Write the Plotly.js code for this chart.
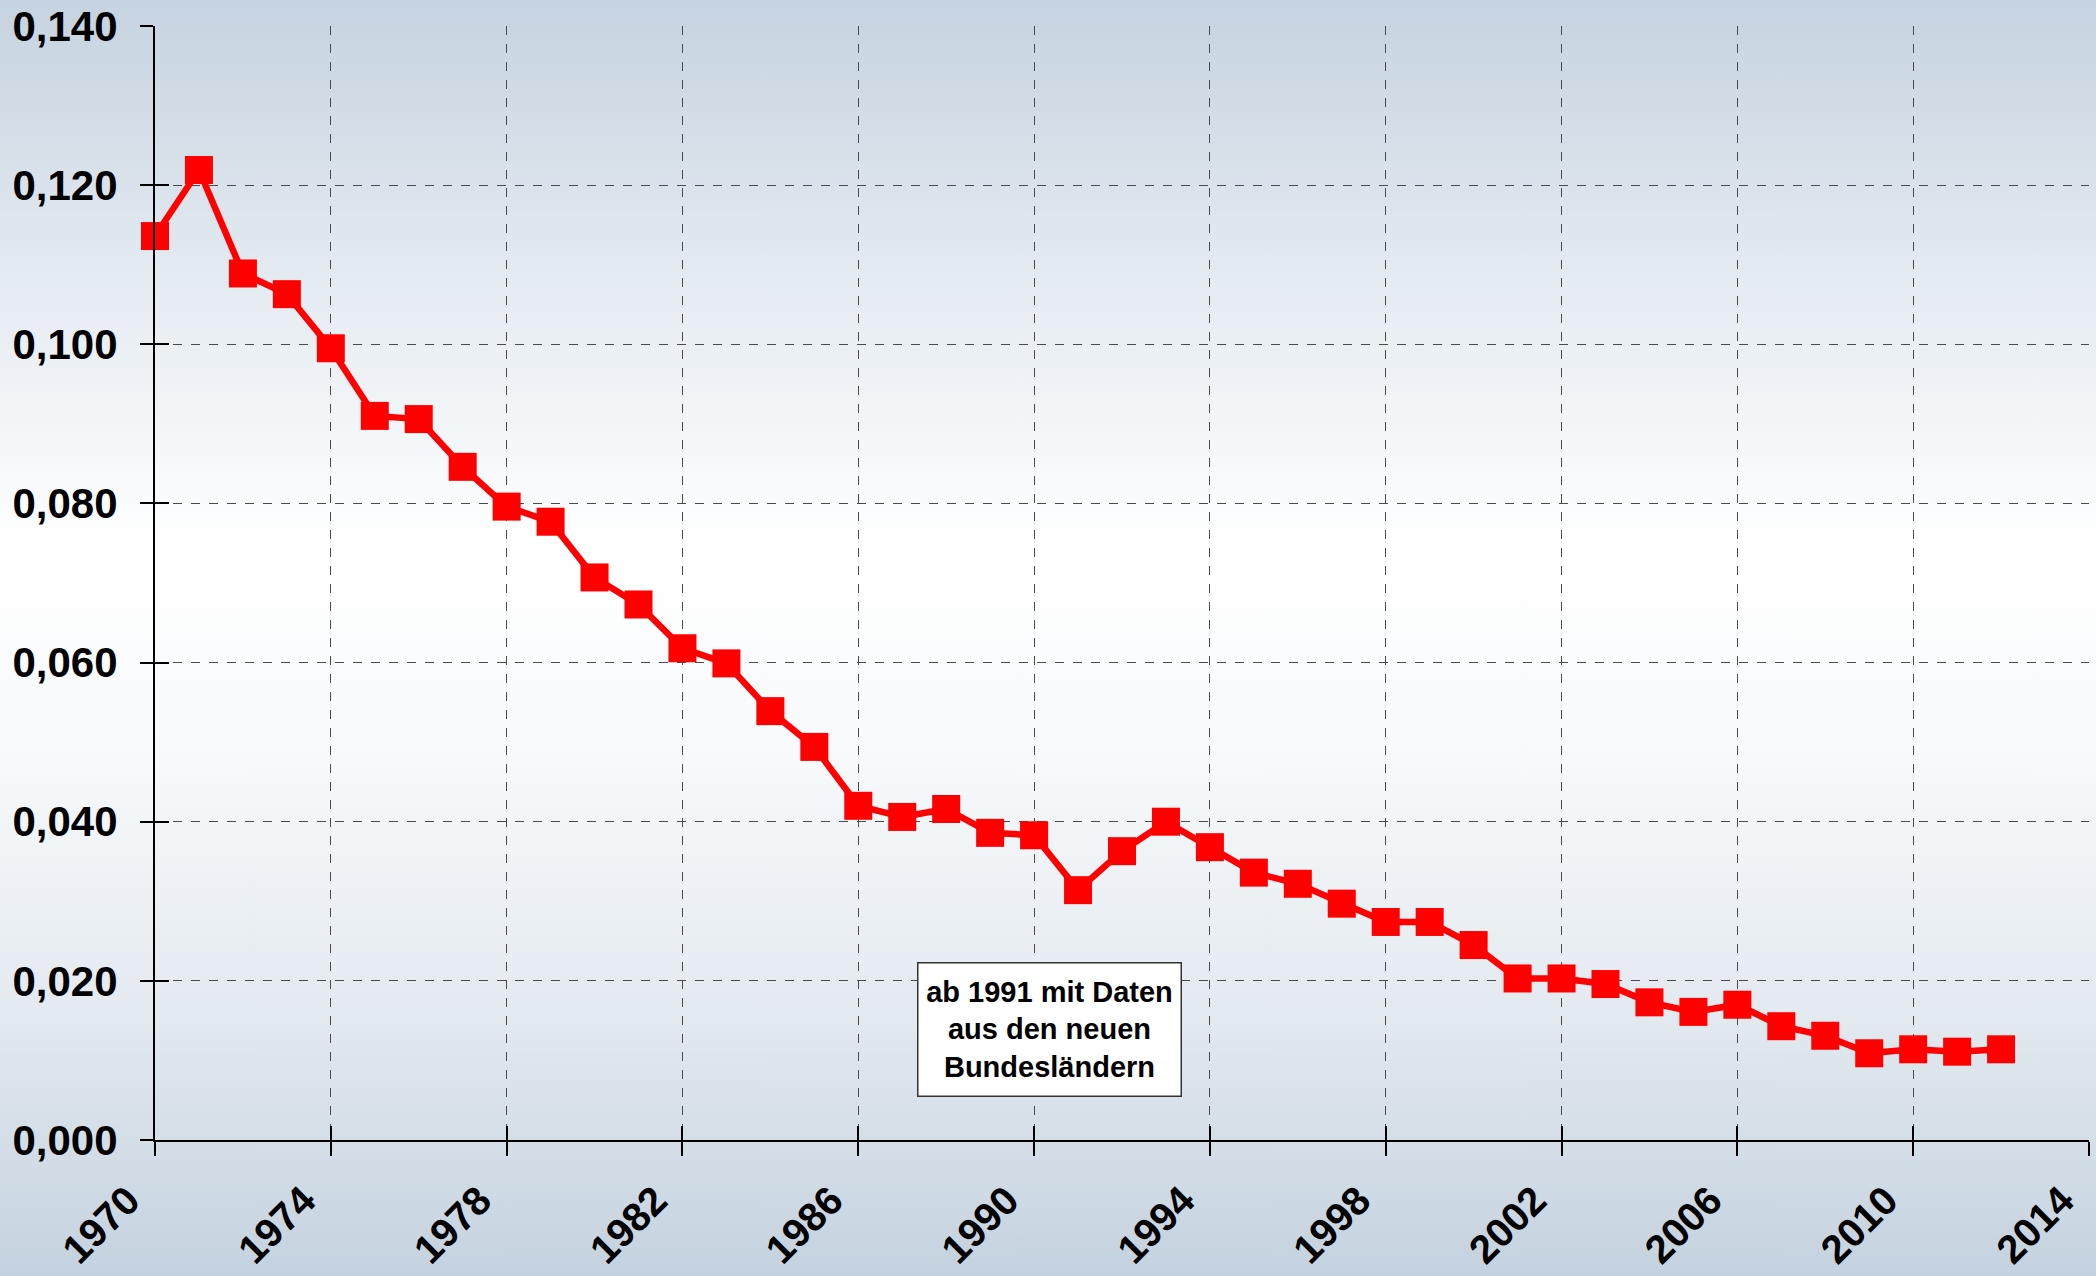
<!DOCTYPE html>
<html>
<head>
<meta charset="utf-8">
<script src="https://cdn.plot.ly/plotly-3.0.1.min.js"></script>
<style>
  html, body { margin: 0; padding: 0; }
  #chart {
    width: 2096px; height: 1276px;
    background: linear-gradient(to bottom, #c6d3e0 0%, #e4ebf1 22%, #ffffff 43%, #f7f9fb 60%, #e2e9ef 80%, #c4d2df 100%);
  }
</style>
</head>
<body>
<div id="chart"></div>
<script>
const years = [1970,1971,1972,1973,1974,1975,1976,1977,1978,1979,1980,1981,1982,1983,1984,1985,1986,1987,1988,1989,1990,1991,1992,1993,1994,1995,1996,1997,1998,1999,2000,2001,2002,2003,2004,2005,2006,2007,2008,2009,2010,2011,2012];
const values = [0.1136,0.1219,0.1089,0.1063,0.0995,0.0910,0.0906,0.0846,0.0796,0.0777,0.0707,0.0673,0.0618,0.0599,0.0539,0.0494,0.0420,0.0406,0.0416,0.0386,0.0383,0.0314,0.0363,0.0400,0.0368,0.0336,0.0322,0.0297,0.0274,0.0274,0.0245,0.0203,0.0203,0.0196,0.0173,0.0161,0.0170,0.0143,0.0131,0.0109,0.0114,0.0111,0.0114];
const noteText = "ab 1991 mit Daten<br>aus den neuen<br>Bundesländern";

const red = "#ff0000";
const font = "Liberation Sans, Arial, sans-serif";

const traces = [
  {
    x: years, y: values, xaxis: "x2", yaxis: "y2",
    type: "scatter", mode: "lines",
    line: {color: "rgba(0,0,0,0)", width: 0},
    hoverinfo: "skip", showlegend: false
  },
  {
    x: years, y: values, type: "scatter", mode: "lines+markers",
    line: {color: red, width: 6.5},
    marker: {symbol: "square", size: 28, color: red},
    cliponaxis: false, showlegend: false
  }
];

const xbase = {range: [1970, 2014], tick0: 1970, dtick: 4};
const ybase = {range: [0, 0.14], tick0: 0, dtick: 0.02};

const layout = {
  width: 2096, height: 1276,
  margin: {l: 155, r: 7, t: 26, b: 136},
  paper_bgcolor: "rgba(0,0,0,0)",
  plot_bgcolor: "rgba(0,0,0,0)",
  separators: ",.",
  showlegend: false,
  font: {family: font, color: "#000"},
  xaxis: Object.assign({}, xbase, {
    showgrid: true, gridcolor: "#4a4a4a", gridwidth: 1, griddash: "dash",
    zeroline: false, showline: true, linecolor: "#000", linewidth: 2,
    ticks: "outside", ticklen: 14, tickwidth: 2, tickcolor: "#000",
    tickangle: -45, ticklabelstandoff: 5, ticklabelshift: -27, ticklabeloverflow: "allow",
    tickfont: {family: font, size: 40, weight: "bold", color: "#000"},
    mirror: false
  }),
  yaxis: Object.assign({}, ybase, {
    showgrid: true, gridcolor: "#4a4a4a", gridwidth: 1, griddash: "dash",
    zeroline: false, showline: true, linecolor: "#000", linewidth: 2,
    ticks: "outside", ticklen: 13, tickwidth: 2, tickcolor: "#000",
    tickformat: ".3f", ticklabelstandoff: 14, ticklabeloverflow: "allow",
    tickfont: {family: font, size: 42, weight: "bold", color: "#000"}
  }),
  xaxis2: Object.assign({}, xbase, {
    overlaying: "x", anchor: "y2", showgrid: false, zeroline: false,
    showline: false, ticks: "inside", ticklen: 14, tickwidth: 2, tickcolor: "#000",
    showticklabels: false
  }),
  yaxis2: Object.assign({}, ybase, {
    overlaying: "y", anchor: "x2", showgrid: false, zeroline: false,
    showline: false, ticks: "inside", ticklen: 14, tickwidth: 2, tickcolor: "#000",
    showticklabels: false
  }),
  annotations: [{
    xref: "paper", yref: "paper", x: 0.4625, y: 0.0996,
    xanchor: "center", yanchor: "middle",
    text: noteText, showarrow: false, align: "center",
    font: {family: font, size: 29, weight: "bold", color: "#000"},
    bgcolor: "#ffffff", bordercolor: "#333333", borderwidth: 1.5,
    borderpad: 4, width: 254, height: 124
  }]
};

Plotly.newPlot("chart", traces, layout, {displayModeBar: false, staticPlot: true});
</script>
</body>
</html>
